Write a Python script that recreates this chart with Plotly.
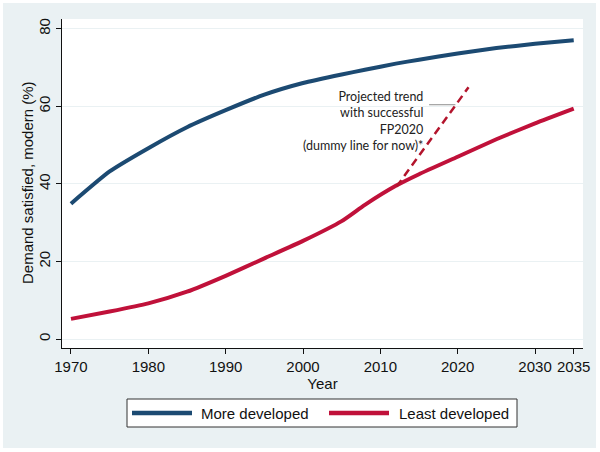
import plotly.graph_objects as go

years = [1970, 1975, 1980, 1985, 1990, 1995, 2000, 2005, 2008, 2012, 2015, 2020, 2025, 2030, 2035]
more_developed = [34.9, 43.2, 49.2, 54.6, 59.0, 63.0, 66.0, 68.2, 69.4, 71.0, 72.0, 73.6, 75.0, 76.1, 77.0]
least_developed = [5.2, 7.1, 9.2, 12.2, 16.3, 20.8, 25.3, 30.4, 34.6, 39.5, 42.5, 47.0, 51.5, 55.6, 59.4]
proj_years = [2012.1, 2021.4]
proj_values = [39.3, 64.9]
x_ticks = [1970, 1980, 1990, 2000, 2010, 2020, 2030, 2035]
y_ticks = [0, 20, 40, 60, 80]
series_names = ["More developed", "Least developed"]

BLUE = "#1c4a72"
RED = "#c0113a"
PANEL = "#eaf1f3"
FONT = "Liberation Sans"

fig = go.Figure()
fig.add_trace(go.Scatter(x=years, y=more_developed, mode="lines", name=series_names[0],
                         line=dict(color=BLUE, width=4, shape="spline", smoothing=0.5)))
fig.add_trace(go.Scatter(x=years, y=least_developed, mode="lines", name=series_names[1],
                         line=dict(color=RED, width=4, shape="spline", smoothing=0.5)))
fig.add_trace(go.Scatter(x=proj_years, y=proj_values, mode="lines", showlegend=False,
                         line=dict(color="#b3142c", width=2.5, dash="8px,5px")))

L, R, T, B = 62, 17, 19, 104
W, H = 600, 452
pw, ph = W - L - R, H - T - B

def px_x(p):
    return (p - L) / pw

def px_y(p):
    return (H - B - p) / ph

# outer panel and white plot region
fig.add_shape(type="rect", xref="paper", yref="paper", layer="below",
              x0=px_x(3), x1=px_x(596), y0=px_y(448), y1=px_y(3),
              fillcolor=PANEL, line=dict(width=0))
fig.add_shape(type="rect", xref="paper", yref="paper", layer="below",
              x0=0, x1=1, y0=0, y1=1, fillcolor="white", line=dict(width=0))
# leader line for annotation
fig.add_shape(type="line", xref="x", yref="y", x0=2016.3, x1=2019.7, y0=60.4, y1=60.4,
              line=dict(color="#8c8c8c", width=1))

fig.add_annotation(x=2015.8, y=56.3, xref="x", yref="y", xanchor="right", yanchor="middle",
                   align="right", showarrow=False,
                   text="Projected trend<br>with successful<br>FP2020<br>(dummy line for now)*",
                   font=dict(family="Lato", size=12.5, color="#222"))

# y-axis title
fig.add_annotation(x=px_x(27), y=px_y(183), xref="paper", yref="paper", showarrow=False,
                   xanchor="center", yanchor="middle",
                   textangle=-90, text="Demand satisfied, modern (%)",
                   font=dict(family=FONT, size=15, color="#111"))

# legend box (Stata style)
fig.add_shape(type="rect", xref="paper", yref="paper", layer="above",
              x0=px_x(127), x1=px_x(517), y0=px_y(427), y1=px_y(399),
              fillcolor="white", line=dict(color="#333", width=1))
legend_items = [(BLUE, 132, 192, 199), (RED, 329, 389, 397)]
for (col, lx0, lx1, tx), name in zip(legend_items, series_names):
    fig.add_shape(type="line", xref="paper", yref="paper", layer="above",
                  x0=px_x(lx0), x1=px_x(lx1), y0=px_y(413), y1=px_y(413),
                  line=dict(color=col, width=4.5))
    fig.add_annotation(x=px_x(tx), y=px_y(413.5), xref="paper", yref="paper", showarrow=False,
                       xanchor="left", yanchor="middle", text=name,
                       font=dict(family=FONT, size=15, color="#111"))

fig.update_layout(
    width=W, height=H,
    margin=dict(l=L, r=R, t=T, b=B, autoexpand=False),
    paper_bgcolor="white",
    plot_bgcolor="white",
    font=dict(family=FONT, size=15, color="#111"),
    showlegend=False,
    xaxis=dict(range=[1968.84, 2036.2], tickvals=x_ticks, showgrid=False, zeroline=False,
               showline=True, linecolor="#111", linewidth=1.2, ticks="outside", ticklen=5,
               tickcolor="#111", automargin=False,
               title=dict(text="Year", standoff=2, font=dict(size=15))),
    yaxis=dict(range=[-2.3, 82.5], tickvals=y_ticks, showgrid=True, gridcolor=PANEL, gridwidth=1,
               zeroline=False, showline=True, linecolor="#111", linewidth=1.2, ticks="outside",
               ticklen=5, tickcolor="#111", tickangle=-90, automargin=False),
)

fig.write_html("out.html", config={"displayModeBar": False},
               post_script="document.body.style.margin='0px';document.body.style.overflow='hidden';")
